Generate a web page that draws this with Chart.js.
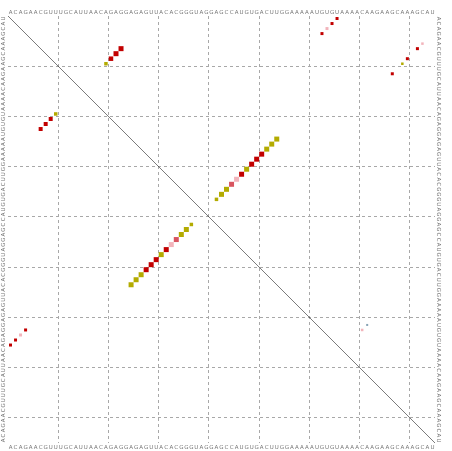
<!DOCTYPE html>
<html>
<head>
<meta charset="utf-8">
<script src="https://cdn.jsdelivr.net/npm/chart.js@4.4.1/dist/chart.umd.min.js"></script>
<style>
  html, body { margin: 0; padding: 0; background: #fff; }
  #dotplot { display: block; }
</style>
</head>
<body>
<canvas id="dotplot" width="452" height="451"></canvas>
<script>
// --- Data ---
const sequence = 'ACAGAACGUUUGCAUUAACAGAGGAGAGUUACACGGGUAGGAGCCAUGUGACUUGGAAAAAUGUGUAAAACAAGAAGCAAAGCAU';
const gridTicks = [10, 20, 30, 40, 50, 60, 70, 80];

// upper triangle (column i, row j)
const upperI = [42, 43, 44, 45, 46, 47, 48, 49, 50, 51, 52, 53, 54, 20, 21, 22, 23, 63, 64, 65, 66, 77, 79, 80, 82, 83, 71, 72];
const upperJ = [37, 36, 35, 34, 33, 32, 31, 30, 29, 28, 27, 26, 25, 10, 9, 8, 7, 4, 3, 2, 1, 12, 10, 9, 7, 6, 63, 62];
const upperKind = ['o', 'o', 'o', 'm', 'p', 'r', 'o', 'r', 'r', 'r', 'o', 'o', 'o', 'o', 'r', 'r', 'r', 'r', 'p', 'r', 'r', 'r', 'o', 'r', 'r', 'p', 'p', 'b'];
const upperSize = [3.5, 5, 5, 5, 5, 5, 5, 5, 5, 5, 5, 5, 5, 3.5, 4.5, 5, 5, 3, 3, 3, 3, 3, 2.5, 3, 3, 2.5, 2.5, 2];

// lower triangle
const lowerI = [25, 26, 27, 28, 29, 30, 31, 32, 33, 34, 35, 36, 37, 7, 8, 9, 10, 1, 2, 3, 4];
const lowerJ = [54, 53, 52, 51, 50, 49, 48, 47, 46, 45, 44, 43, 42, 23, 22, 21, 20, 66, 65, 64, 63];
const lowerKind = ['o', 'o', 'o', 'r', 'r', 'r', 'o', 'r', 'p', 'm', 'o', 'o', 'o', 'r', 'r', 'r', 'o', 'r', 'r', 'p', 'r'];
const lowerSize = [5, 5, 5, 5, 5, 5, 5, 5, 5, 5, 5, 5, 3.5, 4, 4, 4, 3.5, 3, 3, 3, 3];

const kindColors = { o: '#b3ab00', r: '#c20000', m: '#d8545f', p: '#f2b4bb', b: '#86a2b4' };

// --- Build points ---
const N = sequence.length;
function buildPoints(is, js, kinds, sizes) {
    return is.map((i, k) => ({ x: i - 0.5, y: js[k] - 0.5, kind: kinds[k], side: sizes[k] }));
}
const points = buildPoints(upperI, upperJ, upperKind, upperSize)
    .concat(buildPoints(lowerI, lowerJ, lowerKind, lowerSize));

// --- Plugins ---
const diagonalPlugin = {
    id: 'diagonal',
    beforeDatasetsDraw(chart) {
        const { ctx, scales: { x, y } } = chart;
        ctx.save();
        ctx.strokeStyle = '#222';
        ctx.lineWidth = 0.6;
        ctx.beginPath();
        ctx.moveTo(x.getPixelForValue(0), y.getPixelForValue(0));
        ctx.lineTo(x.getPixelForValue(N), y.getPixelForValue(N));
        ctx.stroke();
        ctx.restore();
    }
};

const sequenceLabels = {
    id: 'sequenceLabels',
    afterDraw(chart) {
        const { ctx, scales: { x, y } } = chart;
        ctx.save();
        ctx.font = '5.5px "DejaVu Sans"';
        ctx.fillStyle = '#777';
        ctx.textAlign = 'center';
        ctx.textBaseline = 'middle';
        for (let k = 0; k < N; k++) {
            const ch = sequence[k];
            const px = x.getPixelForValue(k + 0.5);
            ctx.fillText(ch, px, 12.5);
            ctx.fillText(ch, px, 447.5);

            // right side: reads top to bottom
            ctx.save();
            ctx.translate(438.5, y.getPixelForValue(k + 0.5));
            ctx.rotate(Math.PI / 2);
            ctx.fillText(ch, 0, 0);
            ctx.restore();

            // left side: reads bottom to top
            ctx.save();
            ctx.translate(4, y.getPixelForValue(N - k - 0.5));
            ctx.rotate(-Math.PI / 2);
            ctx.fillText(ch, 0, 0);
            ctx.restore();
        }
        ctx.restore();
    }
};

// --- Chart ---
const gridStyle = { color: '#a8a8a8', lineWidth: 1, drawTicks: false };
new Chart(document.getElementById('dotplot'), {
    type: 'scatter',
    data: {
        datasets: [{
            data: points,
            pointStyle: 'rect',
            pointRadius: ctx => ctx.raw.side / Math.SQRT2,
            pointBackgroundColor: ctx => kindColors[ctx.raw.kind],
            pointBorderWidth: 0
        }]
    },
    options: {
        responsive: false,
        animation: false,
        devicePixelRatio: 1,
        layout: { padding: { left: 8, top: 16, right: 17, bottom: 8 } },
        plugins: { legend: { display: false }, tooltip: { enabled: false } },
        scales: {
            x: {
                type: 'linear', min: 0, max: N,
                afterBuildTicks: s => { s.ticks = gridTicks.map(v => ({ value: v })); },
                ticks: { display: false },
                border: { display: false, dash: [3, 3] },
                grid: gridStyle
            },
            y: {
                type: 'linear', min: 0, max: N, reverse: true,
                afterBuildTicks: s => { s.ticks = gridTicks.map(v => ({ value: v })); },
                ticks: { display: false },
                border: { display: false, dash: [3, 3] },
                grid: gridStyle
            }
        }
    },
    plugins: [diagonalPlugin, sequenceLabels]
});
</script>
</body>
</html>
